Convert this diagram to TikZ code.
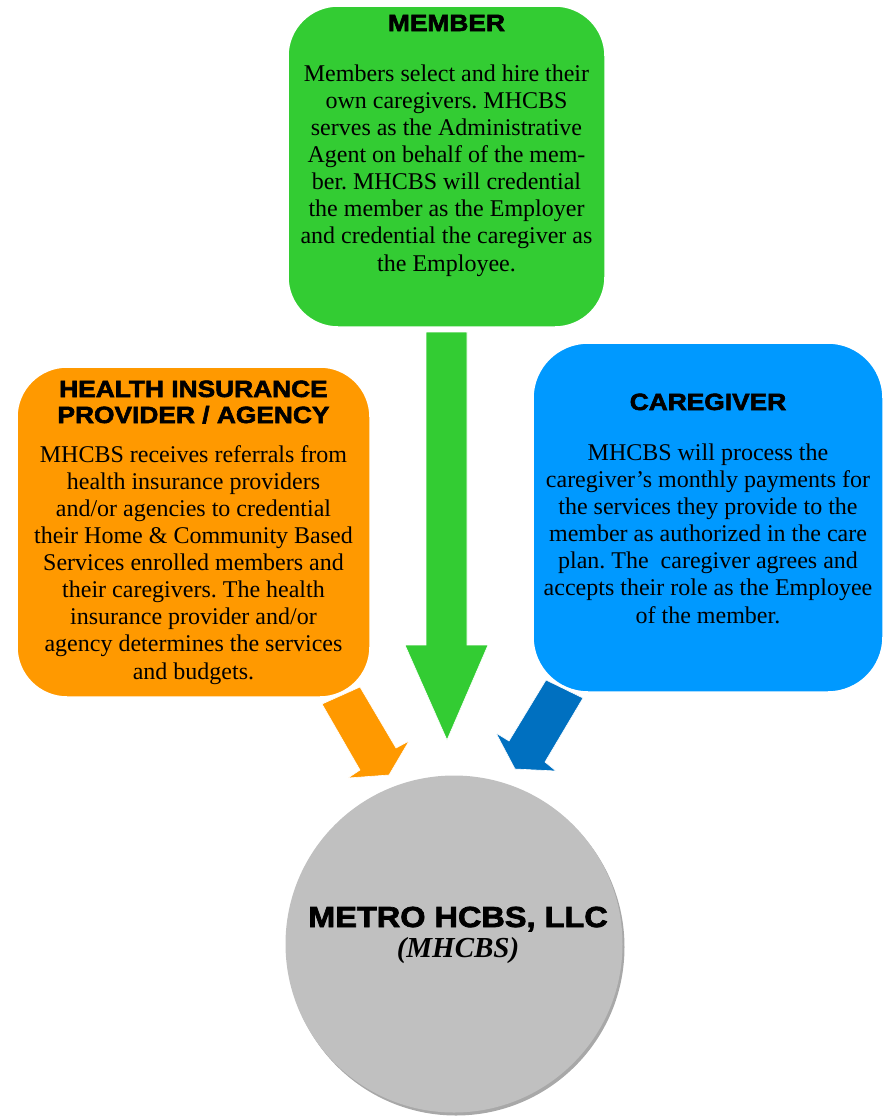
\documentclass[tikz,border=0pt]{standalone}
\usepackage{fontspec}
\setmainfont{Liberation Serif}
\newfontfamily\heavyfont{Liberation Sans}[FakeBold=2.5,FakeStretch=1.12]

\definecolor{memgreen}{HTML}{33CC33}
\definecolor{hiporange}{HTML}{FF9900}
\definecolor{cgblue}{HTML}{0099FF}
\definecolor{arrowblue}{HTML}{0070C0}
\definecolor{hubgray}{HTML}{C0C0C0}
\definecolor{hubshade}{HTML}{A8A8A8}

% multi-line nodes are placed by the baseline of their last line
\tikzset{
  roundbox/.style={draw=white, line width=1.5pt, rounded corners=50pt},
  boxtitle/.style={anchor=base, inner sep=0pt, align=center,
    font=\heavyfont\bfseries\fontsize{23.5}{26}\selectfont},
  boxbody/.style={anchor=base, inner sep=0pt, align=center,
    font=\frenchspacing\fontsize{24}{27.1}\selectfont},
  blockarrow/.style={draw=white, line width=0.6pt, line join=miter}
}

\begin{document}
\begin{tikzpicture}[x=1pt,y=-1pt]
\useasboundingbox (0,0) rectangle (892,1117);

% block arrows pointing into the hub
\fill[hiporange, blockarrow] (322,704) -- (360,687) -- (396,748) -- (409,741)
  -- (389,775) -- (348,778) -- (360,770) -- cycle;
\fill[arrowblue, blockarrow] (546,680) -- (583,698) -- (545,762) -- (556,771)
  -- (515,769) -- (496,733) -- (509,741) -- cycle;
\fill[memgreen, blockarrow] (426,332) -- (467,332) -- (467,645) -- (488,645)
  -- (447,740) -- (405,645) -- (426,645) -- cycle;

% the three role boxes
\filldraw[memgreen, roundbox] (288,6) rectangle (605,327);
\filldraw[hiporange, roundbox] (17,367) rectangle (370,697);
\filldraw[cgblue, roundbox, rounded corners=55pt] (533,343) rectangle (883,692);

% hub circle with its shading
\fill[hubshade] (456,947) circle (168.5);
\fill[hubgray] (454,944) circle (168.5);

\node[boxtitle] (memtitle) at (446.5,31) {MEMBER};
\node[boxbody] (membody) at (446.5,271) {Members select and hire their\\
  own caregivers. MHCBS\\
  serves as the Administrative\\
  Agent on behalf of the mem-\\
  ber. MHCBS will credential\\
  the member as the Employer\\
  and credential the caregiver as\\
  the Employee.};

\node[boxtitle] (hiptitle) at (193.5,423) {HEALTH INSURANCE\\PROVIDER / AGENCY};
\node[boxbody] (hipbody) at (193.5,679) {MHCBS receives referrals from\\
  health insurance providers\\
  and/or agencies to credential\\
  their Home \& Community Based\\
  Services enrolled members and\\
  their caregivers. The health\\
  insurance provider and/or\\
  agency determines the services\\
  and budgets.};

\node[boxtitle] (cgtitle) at (708,410) {CAREGIVER};
\node[boxbody] (cgbody) at (708,623) {MHCBS will process the\\
  caregiver’s monthly payments for\\
  the services they provide to the\\
  member as authorized in the care\\
  plan. The\ \ caregiver agrees and\\
  accepts their role as the Employee\\
  of the member.};

\node[anchor=base, inner sep=0pt, font=\heavyfont\bfseries\fontsize{29}{29}\selectfont]
  (hubname) at (458,927) {METRO HCBS, LLC};
\node[anchor=base, inner sep=0pt, font=\bfseries\itshape\fontsize{29}{29}\selectfont]
  (hubshort) at (458,957) {(MHCBS)};
\end{tikzpicture}
\end{document}
